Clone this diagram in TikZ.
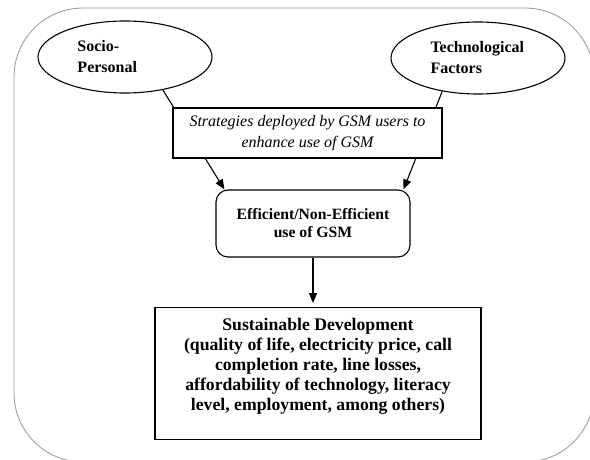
\documentclass[tikz,border=0pt]{standalone}
\usepackage{fontspec}
\setmainfont{Liberation Serif}
\usetikzlibrary{shapes.geometric,arrows.meta,calc}

\begin{document}
\begin{tikzpicture}[x=1pt,y=-1pt,line width=1.1pt,
    >={Triangle[length=10pt,width=8pt]}]

      \useasboundingbox (0,0) rectangle (590,460);
      \draw[gray!75,line width=0.9pt,rounded corners=69pt] (14,8) rectangle (594,462);

      \begin{scope}[every node/.style={ellipse,draw,minimum width=174pt,minimum height=72pt,
          inner sep=0pt,text width=95pt,align=left,font=\bfseries\fontsize{16}{21}\selectfont}]
        \node (socio) at (125,57) {Socio-\\Personal};
        \node (tech)  at (478,58) {Technological\\Factors};
      \end{scope}

      \begin{scope}[every node/.style={draw,align=center,font=\bfseries\fontsize{17.7}{20}\selectfont}]
        \node[rounded corners=12pt,minimum width=194pt,minimum height=67pt,
          font=\bfseries\fontsize{15.7}{18}\selectfont] (eff) at (313,223.5)
          {Efficient/Non-Efficient\\use of GSM};
        \node[anchor=north,minimum width=326pt,inner ysep=11pt] (sd) at (318,307)
          {Sustainable Development\\(quality of life, electricity price, call\\completion rate, line losses,\\affordability of technology, literacy\\level, employment, among others)\rule[-18pt]{0pt}{18pt}};
      \end{scope}

      \begin{scope}[every edge/.style={draw,->}]
        \path (socio.-41) edge ($(eff.north west)!0.046!(eff.north east)$);
        \path (tech.-137) edge ($(eff.north west)!0.964!(eff.north east)$);
        \path (eff.south) edge[shorten >=4pt] (eff.south |- sd.north);
      \end{scope}

      \node[draw,fill=white,minimum width=269pt,minimum height=50pt,align=center,
        font=\itshape\fontsize{16}{21}\selectfont] (strat) at (307.5,133)
        {Strategies deployed by GSM users to\\enhance use of GSM};

    \end{tikzpicture}
\end{document}
